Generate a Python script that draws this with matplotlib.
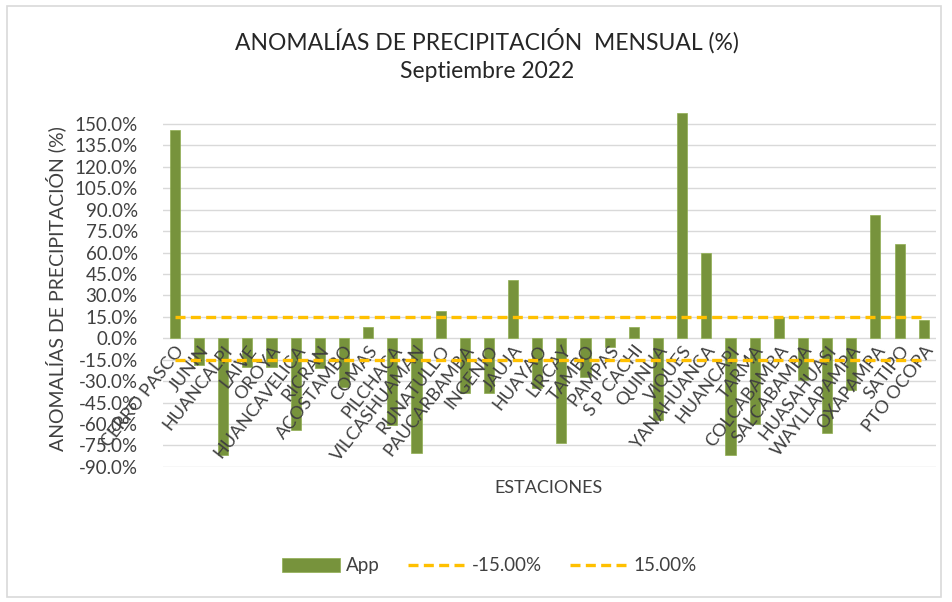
import matplotlib.pyplot as plt
from matplotlib.patches import Rectangle
import numpy as np

plt.rcParams['font.family'] = ['Lato', 'DejaVu Sans']

# Datos: anomalías de precipitación (%) por estación
estaciones = ['CERRO PASCO', 'JUNIN', 'HUANCALPI', 'LAIVE', 'OROYA', 'HUANCAVELICA',
              'RICRAN', 'ACOSTAMBO', 'COMAS', 'PILCHACA', 'VILCASHUAMAN', 'RUNATULLO',
              'PAUCARBAMBA', 'INGENIO', 'JAUJA', 'HUAYAO', 'LIRCAY', 'TAMBO', 'PAMPAS',
              'S P CACHI', 'QUINUA', 'VIQUES', 'YANAHUANCA', 'HUANCAPI', 'TARMA',
              'COLCABAMBA', 'SALCABAMBA', 'HUASAHUASI', 'WAYLLAPAMPA', 'OXAPAMPA',
              'SATIPO', 'PTO OCOPA']
app = [146, -19, -82, -20, -20, -64,
       -21, -34, 8, -61, -80, 19,
       -38, -38, 41, -35, -73, -27, -6,
       8, -57, 158, 60, -82, -60,
       15, -29, -66, -36, 86,
       66, 13]
umbral_inf = [-15.0] * len(estaciones)
umbral_sup = [15.0] * len(estaciones)

yticks = list(range(-90, 151, 15))

fig = plt.figure(figsize=(9.52, 6.02), dpi=100)
ax = fig.add_axes([0.171, 0.2244, 0.812, 0.5934])

x = np.arange(len(estaciones))
barras = ax.bar(x, app, width=0.42, color='#77933C', edgecolor='#8fae50', linewidth=0.5,
                label='App', zorder=3)
l1, = ax.plot(x, umbral_inf, color='#FFC000', linestyle=(0, (3, 1.6)), linewidth=2.4,
              label='-15.00%', zorder=6)
l2, = ax.plot(x, umbral_sup, color='#FFC000', linestyle=(0, (3, 1.6)), linewidth=2.4,
              label='15.00%', zorder=6)

ax.set_xlim(-0.5, len(estaciones) - 0.5)
ax.set_ylim(-90, 160)
ax.set_yticks(yticks)
ax.set_yticklabels([f'{v:.1f}%' for v in yticks], fontsize=13.5, color='#404040')
ax.yaxis.grid(True, color='#d9d9d9', linewidth=1, zorder=0)
ax.set_axisbelow(True)

# etiquetas del eje x sobre la línea de 0, por encima de las barras
ax.spines['bottom'].set_position(('data', 0))
for s in ax.spines.values():
    s.set_visible(False)
ax.tick_params(axis='both', length=0)
ax.tick_params(axis='y', pad=18)
ax.tick_params(axis='x', pad=3)
ax.set_xticks(x)
ax.set_xticklabels(estaciones, rotation=52, ha='right', rotation_mode='anchor',
                   fontsize=13, color='#404040')
ax.xaxis.set_zorder(5)

ax.set_ylabel('ANOMALÍAS DE PRECIPITACIÓN (%)', fontsize=14, color='#404040', labelpad=6)
fig.text(0.576, 0.19, 'ESTACIONES', ha='center', va='center', fontsize=13, color='#404040')

fig.text(0.512, 0.932, 'ANOMALÍAS DE PRECIPITACIÓN  MENSUAL (%)', ha='center', va='center',
         fontsize=16.5, color='#262626')
fig.text(0.512, 0.882, 'Septiembre 2022', ha='center', va='center',
         fontsize=16.5, color='#262626')

fig.legend([barras, l1, l2], ['App', '-15.00%', '15.00%'], loc='center',
           bbox_to_anchor=(0.514, 0.06), ncol=3, frameon=False,
           fontsize=13.5, handlelength=3.1, handleheight=0.8, columnspacing=1.5,
           handletextpad=0.3, labelcolor='#404040')

# borde del área del gráfico
fig.patches.append(Rectangle((0.007, 0.008), 0.981, 0.982, transform=fig.transFigure,
                             fill=False, edgecolor='#d9d9d9', linewidth=1.2))

fig.savefig('out.png', dpi=100)
